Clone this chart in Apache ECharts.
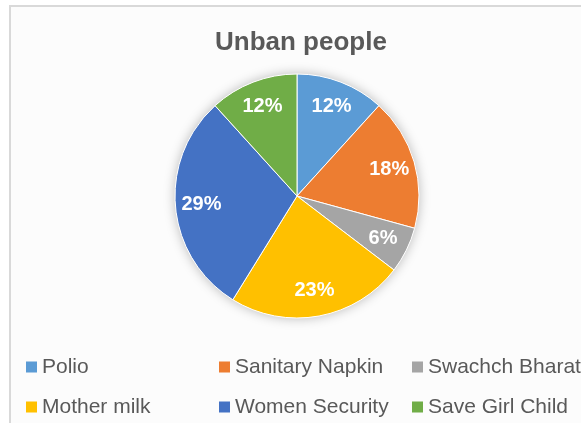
<!DOCTYPE html>
<html>
<head>
<meta charset="utf-8">
<script src="https://cdn.jsdelivr.net/npm/echarts@6/dist/echarts.min.js"></script>
<style>
  html, body { margin: 0; padding: 0; background: #fff; }
  #main { width: 581px; height: 423px; }
</style>
</head>
<body>
<div id="main"></div>
<script>
// data (share of the pie, percent)
const categories = ['Polio', 'Sanitary Napkin', 'Swachch Bharat', 'Mother milk', 'Women Security', 'Save Girl Child'];
const values = [11.7, 17.5, 6.1, 23.4, 29.4, 11.7];
const colors = ['#5B9BD5', '#ED7D31', '#A5A5A5', '#FFC000', '#4472C4', '#70AD47'];

// legend grid: 3 columns, 2 rows
const legendCols = [26, 219, 412];
const legendRows = [355, 395];

const font = '"Liberation Sans", Arial, sans-serif';
const center = [297, 196];

let pieData = categories.map((name, i) => ({ name: name, value: values[i] }));

let legends = categories.map((name, i) => ({
  data: [name],
  left: legendCols[i % 3],
  top: legendRows[Math.floor(i / 3)],
  padding: 0,
  icon: 'rect',
  itemWidth: 11,
  itemHeight: 11,
  itemGap: 0,
  selectedMode: false,
  itemStyle: { borderWidth: 0 },
  textStyle: { color: '#595959', fontSize: 21, fontFamily: font, lineHeight: 24 }
}));

let myChart = echarts.init(document.getElementById('main'));
myChart.setOption({
  backgroundColor: '#fff',
  color: colors,
  title: {
    text: 'Unban people',
    left: 215,
    top: 30,
    padding: 0,
    textStyle: { color: '#595959', fontSize: 26, fontWeight: 'bold', fontFamily: font }
  },
  legend: legends,
  graphic: [
    {
      type: 'rect',
      z: -10,
      shape: { x: 10, y: 6, width: 600, height: 430 },
      style: { fill: '#fcfcfc', stroke: '#d9d9d9', lineWidth: 2 }
    }
  ],
  series: [
    {
      // soft shadow behind the pie
      type: 'pie',
      center: center,
      radius: [0, 122],
      silent: true,
      z: 1,
      label: { show: false },
      itemStyle: { color: '#fff', shadowBlur: 12, shadowColor: 'rgba(0,0,0,0.28)' },
      data: [{ name: '_bg', value: 1 }]
    },
    {
      name: 'Unban people',
      type: 'pie',
      center: center,
      radius: [0, 122],
      startAngle: 90,
      clockwise: true,
      z: 2,
      label: { show: false },
      itemStyle: { borderColor: '#fff', borderWidth: 1 },
      emphasis: { scale: false },
      data: pieData
    },
    {
      // transparent ring only used to place the labels further out
      type: 'pie',
      center: center,
      radius: [64, 122],
      startAngle: 90,
      clockwise: true,
      silent: true,
      z: 3,
      itemStyle: { color: 'rgba(0,0,0,0)' },
      label: {
        show: true,
        position: 'inside',
        color: '#fff',
        fontSize: 20,
        fontWeight: 'bold',
        fontFamily: font,
        formatter: function (p) {
          return Math.round(p.percent) + '%';
        }
      },
      labelLine: { show: false },
      data: categories.map((name, i) => ({ name: name + ' ', value: values[i] }))
    }
  ]
});
</script>
</body>
</html>
